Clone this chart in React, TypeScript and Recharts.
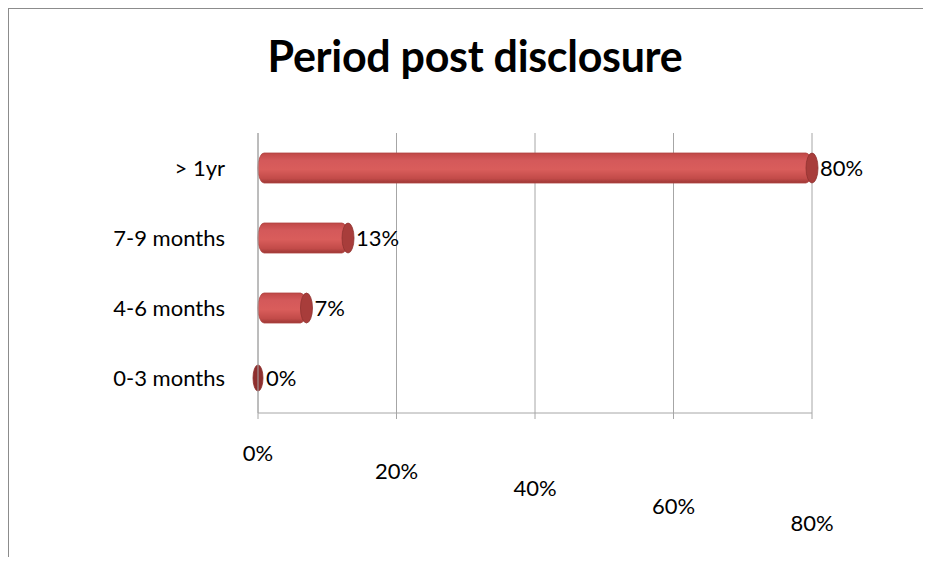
import { BarChart, Bar, XAxis, YAxis, CartesianGrid, LabelList } from 'recharts';

// categories top to bottom as shown in the chart
const periods = ['> 1yr', '7-9 months', '4-6 months', '0-3 months'];
const shares = [80, 13, 7, 0];
const xTicks = [0, 20, 40, 60, 80];

const data = periods.map((p, i) => ({ period: p, share: shares[i] }));

const FONT = 'Lato, "Open Sans", sans-serif';

// cylinder-ish bar: rounded body plus a darker elliptical end cap
const Cylinder = (props: any) => {
  const { x, y, width, height } = props;
  if (x == null || y == null) return null;
  const w = Math.max(0, width || 0);
  const cy = y + height / 2;
  const r = 6;
  return (
    <g>
      {w > 0 && (
        <rect x={x} y={y} width={w} height={height} rx={r} ry={height / 2} fill="url(#cylFill)" stroke="#b04543" strokeWidth={0.8} />
      )}
      <ellipse
        cx={x + w}
        cy={cy}
        rx={w > 0 ? r : 5}
        ry={w > 0 ? height / 2 : height / 2.3}
        fill={w > 0 ? '#a83d3b' : '#8e2f2e'}
        stroke="#8f3230"
        strokeWidth={0.8}
      />
    </g>
  );
};

// tick labels drop down a little from left to right, like the tilted floor
const PerspTick = (props: any) => {
  const { x, y, payload, index } = props;
  return (
    <text x={x} y={y + 40 + index * 17.5} textAnchor="middle" fontSize={22} fontFamily={FONT} fill="#000">
      {`${payload.value}%`}
    </text>
  );
};

export default function App() {
  return (
    <div style={{ position: 'relative', width: 915, height: 549, fontFamily: FONT }}>
      <div style={{ position: 'absolute', top: -1, left: -1, width: 924, height: 2, background: '#8c8c8c' }} />
      <div style={{ position: 'absolute', top: -1, left: -1, width: 2, height: 560, background: '#8c8c8c' }} />
      <div
        style={{
          position: 'absolute',
          top: 22,
          left: 0,
          width: 934,
          textAlign: 'center',
          fontSize: 43,
          fontWeight: 700,
          letterSpacing: -0.3,
          color: '#000',
        }}
      >
        Period post disclosure
      </div>
      <BarChart
        width={915}
        height={549}
        data={data}
        layout="vertical"
        margin={{ top: 125, right: 111, bottom: 114, left: 10 }}
        barSize={30}
      >
        <defs>
          <linearGradient id="cylFill" x1="0" y1="0" x2="0" y2="1">
            <stop offset="0%" stopColor="#c04846" />
            <stop offset="25%" stopColor="#d4595a" />
            <stop offset="55%" stopColor="#d95d5b" />
            <stop offset="85%" stopColor="#c24b49" />
            <stop offset="100%" stopColor="#9c3735" />
          </linearGradient>
        </defs>
        <CartesianGrid horizontal={false} vertical stroke="#a6a6a6" />
        <XAxis
          type="number"
          domain={[0, 80]}
          ticks={xTicks}
          interval={0}
          axisLine={{ stroke: '#a6a6a6' }}
          tickLine={{ stroke: '#a6a6a6' }}
          tick={<PerspTick />}
        />
        <YAxis
          type="category"
          dataKey="period"
          width={240}
          tickSize={6}
          tickMargin={27}
          axisLine={{ stroke: '#a6a6a6' }}
          tickLine={false}
          tick={{ fontSize: 22, fontFamily: FONT, fill: '#000' }}
        />
        <Bar dataKey="share" shape={<Cylinder />} isAnimationActive={false}>
          <LabelList
            dataKey="share"
            position="right"
            offset={8}
            formatter={(v: any) => `${v}%`}
            style={{ fontSize: 22, fontFamily: FONT, fill: '#000' }}
          />
        </Bar>
      </BarChart>
    </div>
  );
}
